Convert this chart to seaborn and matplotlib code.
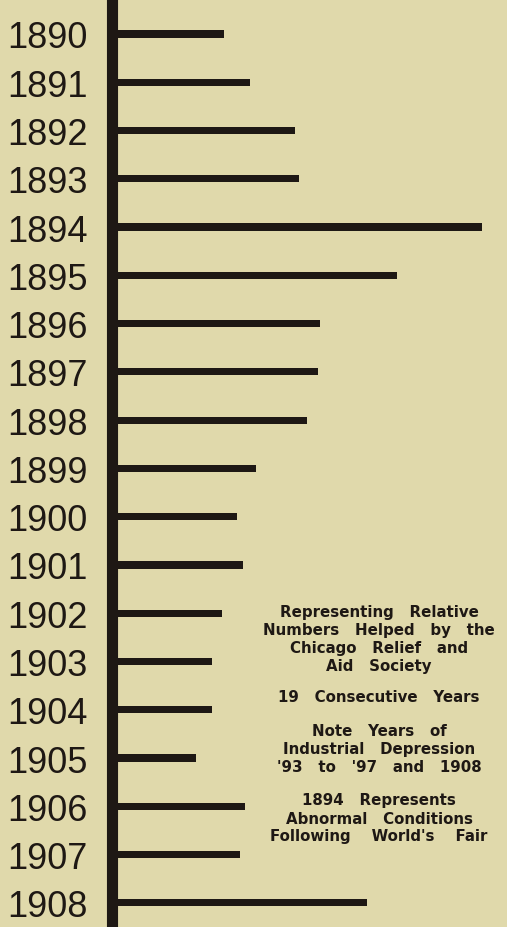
import pandas as pd
import matplotlib
matplotlib.use("Agg")
import matplotlib.pyplot as plt
import seaborn as sns

# Data (relative numbers helped)
years = ["1890", "1891", "1892", "1893", "1894", "1895", "1896", "1897", "1898", "1899",
         "1900", "1901", "1902", "1903", "1904", "1905", "1906", "1907", "1908"]
helped = [112, 138, 183, 187, 370, 285, 208, 206, 195, 144,
          125, 131, 110, 100, 100, 84, 133, 128, 255]

note_blocks = [
    ["Representing   Relative", "Numbers   Helped   by   the", "Chicago   Relief   and", "Aid   Society"],
    ["19   Consecutive   Years"],
    ["Note   Years   of", "Industrial   Depression", "'93   to   '97   and   1908"],
    ["1894   Represents", "Abnormal   Conditions", "Following    World's    Fair"],
]
block_tops = [613, 698, 732, 801]

bg = "#e0d9ab"
ink = "#1e1814"

df = pd.DataFrame({"year": years, "helped": helped})

sns.set_style("white")
plt.rcParams["font.family"] = ["DejaVu Sans"]

W, H = 507, 928
fig = plt.figure(figsize=(W / 100, H / 100), dpi=100)
fig.patch.set_facecolor(bg)
ax = fig.add_axes([111.5 / W, 0, 1 - 111.5 / W, 1 - 5 / H])
ax.set_facecolor(bg)

sns.barplot(data=df, x="helped", y="year", orient="h", color=ink, width=0.15,
            saturation=1, linewidth=0, ax=ax)

ax.set_xlim(0, W - 111.5)
ax.set_ylim(18.5, -0.62)
ax.set_xticks([])
ax.set_xlabel("")
ax.set_ylabel("")
for s in ["top", "right", "bottom"]:
    ax.spines[s].set_visible(False)
ax.spines["left"].set_linewidth(8)
ax.spines["left"].set_color(ink)
ax.tick_params(axis="y", length=0, pad=17)
for lab in ax.get_yticklabels():
    lab.set_fontfamily(["Liberation Sans", "DejaVu Sans"])
    lab.set_fontsize(26)
    lab.set_color(ink)
    lab.set_verticalalignment("center_baseline")

# Side note
for top, lines in zip(block_tops, note_blocks):
    for i, line in enumerate(lines):
        y = top + i * 18
        fig.text(379 / W, 1 - y / H, line, ha="center", va="center",
                 fontsize=10.8, fontweight="bold", color=ink)

plt.savefig("out.png", dpi=100, facecolor=bg)
plt.close()
